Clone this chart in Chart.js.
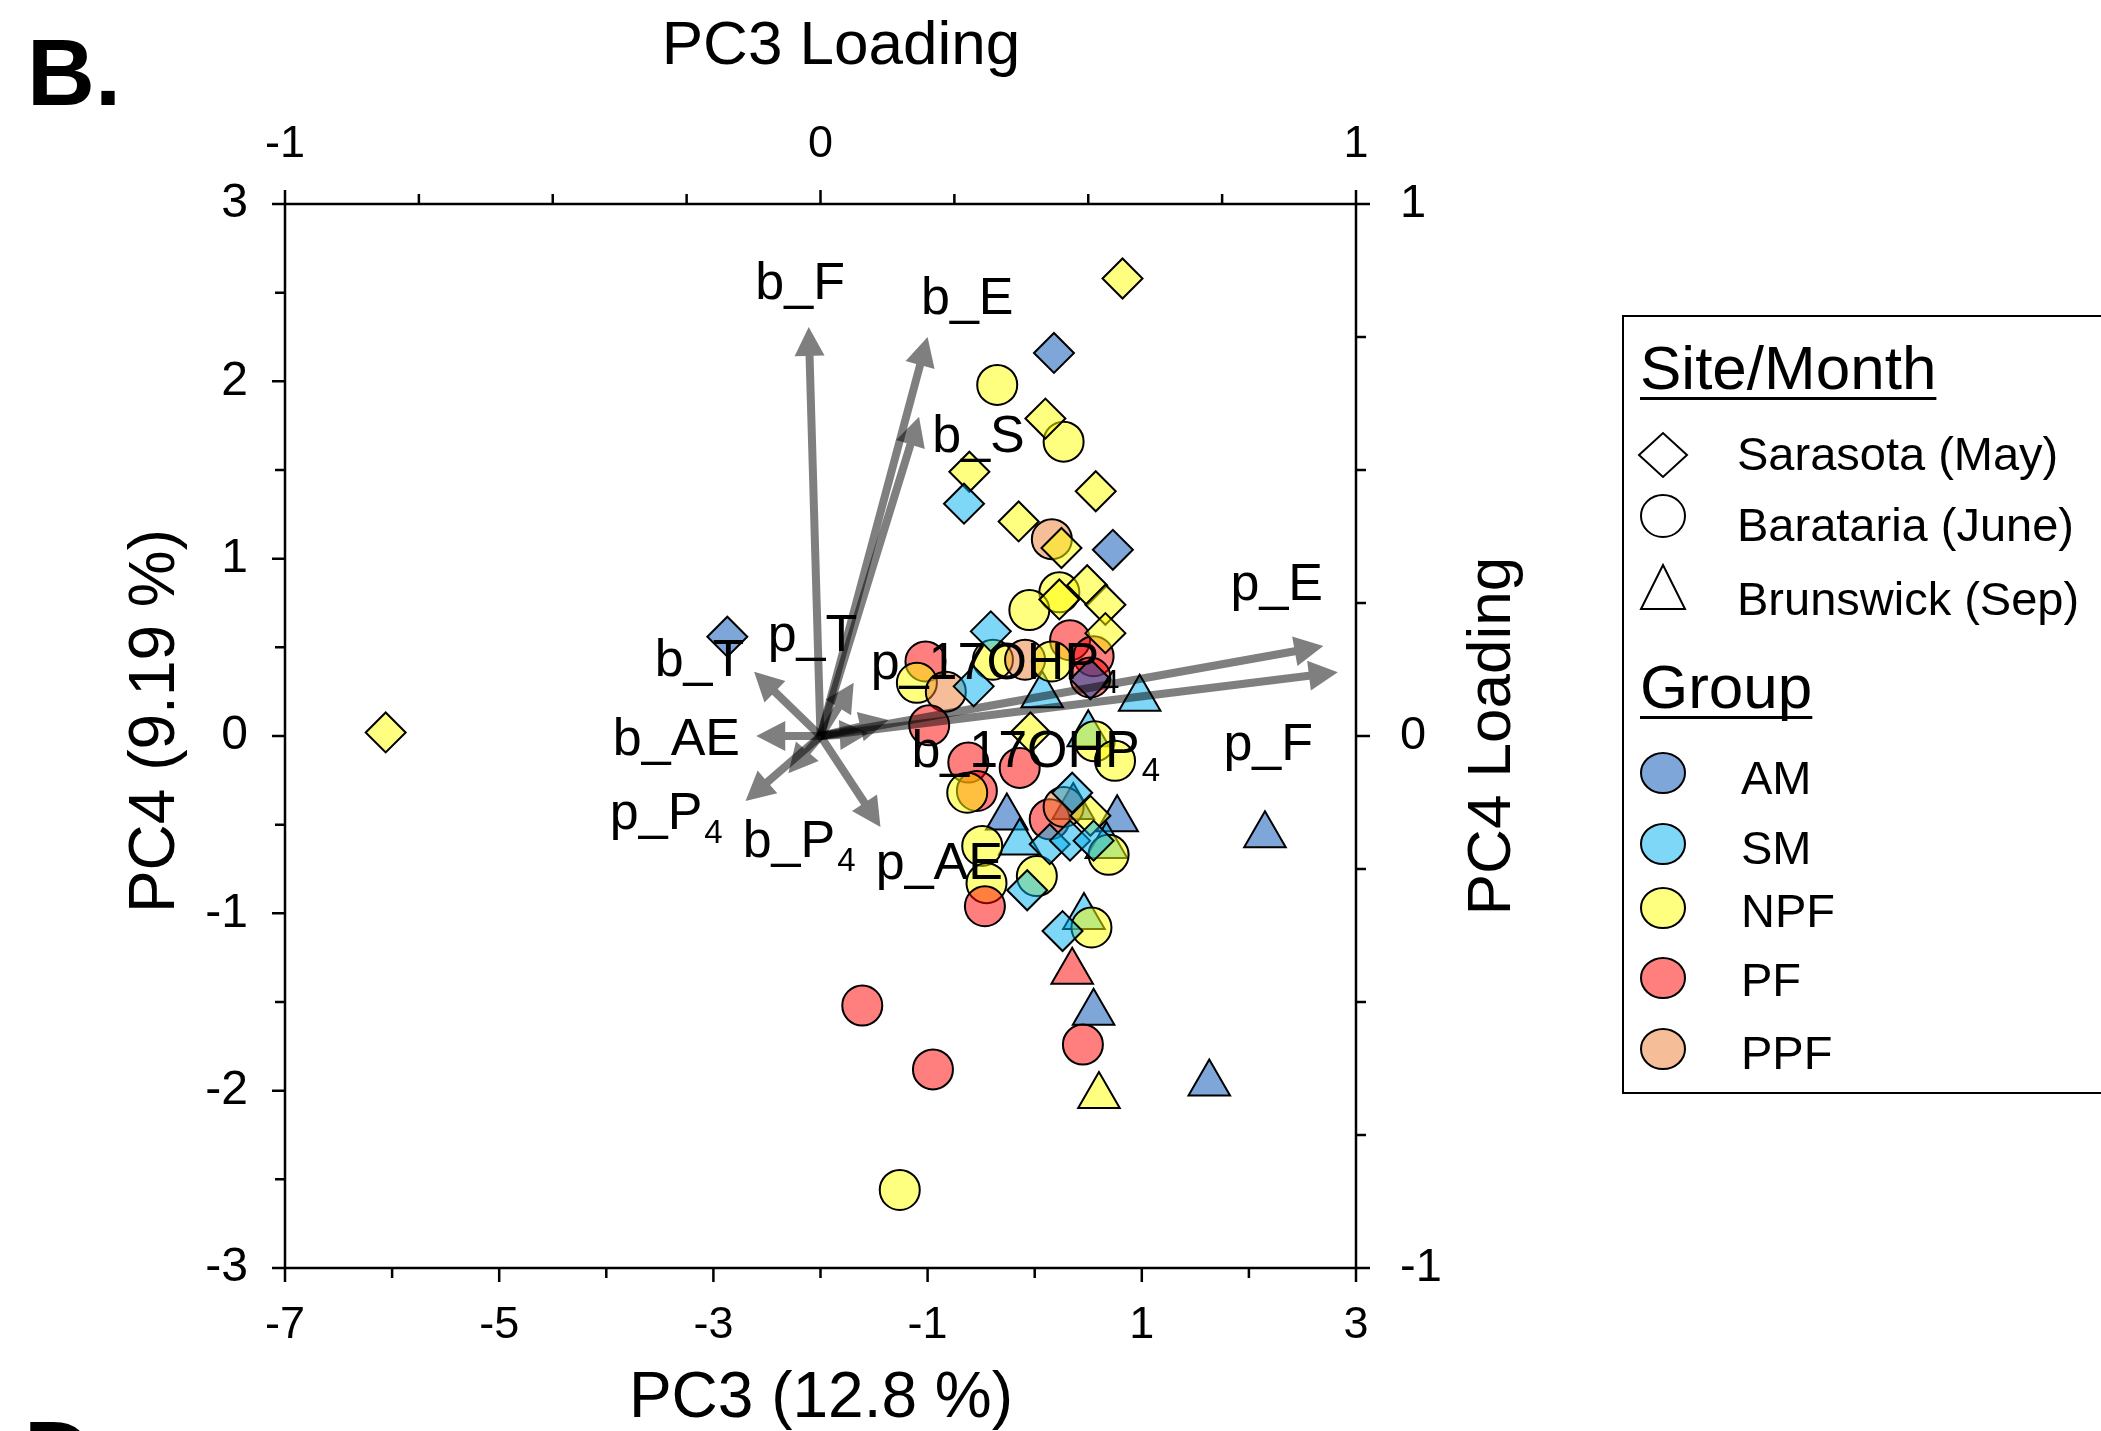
<!DOCTYPE html>
<html><head><meta charset="utf-8">
<script src="https://cdn.jsdelivr.net/npm/chart.js@4.4.1/dist/chart.umd.min.js"></script>
<style>html,body{margin:0;padding:0;background:#fff;overflow:hidden}canvas{display:block}</style>
</head><body>
<canvas id="c" width="2101" height="1431"></canvas>
<script>
// ---------------- data ----------------
const groupNames = ['AM', 'SM', 'NPF', 'PF', 'PPF'];
const groupColors = ['rgba(0,78,180,0.5)', 'rgba(0,176,240,0.5)', 'rgba(255,255,0,0.5)', 'rgba(255,0,0,0.5)', 'rgba(235,123,49,0.5)'];
const siteNames = ['Sarasota (May)', 'Barataria (June)', 'Brunswick (Sep)'];

// Sarasota (May) – diamonds
const sarX = [-6.06, 0.82, 0.18, -2.87, 0.10, -0.61, -0.66, 0.57, -0.15, 0.25, 0.73, 0.49, 0.23, 0.66, 0.66, -0.41, 0.52, -0.57, -0.04, 0.35, 0.52, 0.14, 0.33, 0.55, -0.07, 0.26];
const sarY = [0.02, 2.58, 2.16, 0.56, 1.79, 1.49, 1.31, 1.38, 1.21, 1.06, 1.05, 0.85, 0.77, 0.74, 0.58, 0.59, 0.32, 0.28, 0.02, -0.32, -0.45, -0.61, -0.59, -0.59, -0.87, -1.10];
const sarG = ['NPF','NPF','AM','AM','NPF','NPF','SM','NPF','NPF','NPF','AM','NPF','NPF','NPF','NPF','SM','AM','SM','NPF','SM','NPF','SM','SM','SM','SM','SM'];

// Barataria (June) – circles
const barX = [-0.35, 0.27, 0.16, 0.23, -0.05, 0.33, 0.55, 0.52, -1.02, -1.10, -0.83, -0.39, -0.09, 0.16, -0.985, 0.56, 0.75, -0.62, -0.14, -0.54, -0.63, 0.14, 0.27, 0.69, -0.49, 0.02, -0.45, -0.465, 0.53, -1.61, 0.45, -0.95, -1.26];
const barY = [1.98, 1.66, 1.11, 0.81, 0.71, 0.54, 0.45, 0.33, 0.42, 0.30, 0.25, 0.43, 0.43, 0.42, 0.06, -0.03, -0.14, -0.15, -0.18, -0.31, -0.32, -0.47, -0.40, -0.67, -0.62, -0.79, -0.83, -0.96, -1.08, -1.52, -1.74, -1.88, -2.56];
const barG = ['NPF','NPF','PPF','NPF','NPF','PF','PF','PF','PF','NPF','PPF','NPF','PPF','NPF','PF','NPF','NPF','PF','PF','PF','NPF','PF','PPF','NPF','NPF','NPF','NPF','PF','NPF','PF','PF','PF','NPF'];

// Brunswick (Sep) – triangles
const bruX = [0.07, 0.98, 0.50, -0.26, 0.36, 0.77, -0.14, 0.67, 0.46, 0.35, 0.55, 0.60, 1.63, 2.15];
const bruY = [0.23, 0.21, 0.01, -0.46, -0.40, -0.47, -0.60, -0.62, -1.02, -1.33, -1.56, -2.03, -1.96, -0.56];
const bruG = ['SM','SM','SM','AM','AM','AM','SM','SM','SM','PF','AM','NPF','AM','AM'];

// Loadings (PC3 loading, PC4 loading)
const loadMain = ['b_F', 'b_E', 'b_S', 'p_E', 'p_F', 'p_T', 'b_T', 'b_AE', 'p_P', 'b_P', 'p_AE', 'p_17OHP', 'b_17OHP'];
const loadSub  = ['', '', '', '', '', '', '', '', '4', '4', '', '4', '4'];
const loadX = [-0.022, 0.200, 0.184, 0.939, 0.966, 0.062, -0.124, -0.120, -0.140, -0.060, 0.112, 0.127, 0.090];
const loadY = [0.769, 0.750, 0.600, 0.169, 0.120, 0.100, 0.121, 0.000, -0.122, -0.070, -0.171, 0.030, 0.005];
const labelX = [-0.038, 0.274, 0.295, 0.852, 0.836, -0.015, -0.226, -0.269, -0.288, -0.040, 0.222, 0.326, 0.402];
const labelY = [0.856, 0.828, 0.568, 0.290, -0.011, 0.195, 0.148, 0.000, -0.140, -0.193, -0.234, 0.142, -0.023];

// axis tick settings
const pcXTicks = {min: -7, max: 3, step: 1};
const pcYTicks = {min: -3, max: 3, step: 0.5};
const loadTicks = {min: -1, max: 1, step: 0.25};

// ---------------- helpers ----------------
const FONT = "'Liberation Sans', Arial, sans-serif";
const colorOf = g => groupColors[groupNames.indexOf(g)];
const pts = (xs, ys) => xs.map((x, i) => ({x: x, y: ys[i]}));

function arrowPoly(ctx, x0, y0, x1, y1, sw, hl, hw) {
  const dx = x1 - x0, dy = y1 - y0, L = Math.hypot(dx, dy);
  const ux = dx / L, uy = dy / L, nx = -uy, ny = ux;
  const h = Math.min(hl, L * 0.8), w = hw * h / hl;
  const bx = x1 - ux * h, by = y1 - uy * h;
  ctx.beginPath();
  ctx.moveTo(x0 + nx * sw, y0 + ny * sw);
  ctx.lineTo(bx + nx * sw, by + ny * sw);
  ctx.lineTo(bx + nx * w, by + ny * w);
  ctx.lineTo(x1, y1);
  ctx.lineTo(bx - nx * w, by - ny * w);
  ctx.lineTo(bx - nx * sw, by - ny * sw);
  ctx.lineTo(x0 - nx * sw, y0 - ny * sw);
  ctx.closePath();
  ctx.fill();
}

const bgPlugin = {
  id: 'bg',
  beforeDraw(chart) {
    const c = chart.ctx; c.save(); c.fillStyle = '#fff';
    c.fillRect(0, 0, chart.width, chart.height); c.restore();
  }
};

const arrowPlugin = {
  id: 'arrows',
  afterDatasetsDraw(chart) {
    const ctx = chart.ctx, sx = chart.scales.x2, sy = chart.scales.y2;
    const ox = sx.getPixelForValue(0), oy = sy.getPixelForValue(0);
    ctx.save();
    ctx.fillStyle = 'rgba(0,0,0,0.5)';
    loadX.forEach((lx, i) => {
      arrowPoly(ctx, ox, oy, sx.getPixelForValue(lx), sy.getPixelForValue(loadY[i]), 4, 29, 15);
    });
    // labels
    ctx.fillStyle = '#000';
    ctx.textBaseline = 'alphabetic';
    ctx.textAlign = 'left';
    loadMain.forEach((t, i) => {
      ctx.font = '52px ' + FONT;
      const wm = ctx.measureText(t).width;
      ctx.font = '33px ' + FONT;
      const ws = loadSub[i] ? ctx.measureText(loadSub[i]).width + 2 : 0;
      const cx = sx.getPixelForValue(labelX[i]);
      const cy = sy.getPixelForValue(labelY[i]);
      const left = cx - (wm + ws) / 2, base = cy + 18.6;
      ctx.font = '52px ' + FONT;
      ctx.fillText(t, left, base);
      if (loadSub[i]) { ctx.font = '33px ' + FONT; ctx.fillText(loadSub[i], left + wm + 2, base + 14); }
    });
    ctx.restore();
  }
};

const framePlugin = {
  id: 'frame',
  afterDraw(chart) {
    const ctx = chart.ctx, a = chart.chartArea, S = chart.scales;
    ctx.save();
    ctx.strokeStyle = '#000'; ctx.lineWidth = 2.5;
    ctx.beginPath();
    ctx.moveTo(a.left, a.top - 4); ctx.lineTo(a.left, a.bottom + 4);
    ctx.moveTo(a.right, a.top - 4); ctx.lineTo(a.right, a.bottom + 4);
    ctx.moveTo(a.left - 4, a.top); ctx.lineTo(a.right + 4, a.top);
    ctx.moveTo(a.left - 4, a.bottom); ctx.lineTo(a.right + 4, a.bottom);
    S.x.ticks.forEach(t => { const p = S.x.getPixelForValue(t.value); ctx.moveTo(p, a.bottom); ctx.lineTo(p, a.bottom + (t.label ? 14 : 10)); });
    S.x2.ticks.forEach(t => { const p = S.x2.getPixelForValue(t.value); ctx.moveTo(p, a.top); ctx.lineTo(p, a.top - (t.label ? 14 : 10)); });
    S.y.ticks.forEach(t => { const p = S.y.getPixelForValue(t.value); ctx.moveTo(a.left, p); ctx.lineTo(a.left - (t.label ? 13 : 10), p); });
    S.y2.ticks.forEach(t => { const p = S.y2.getPixelForValue(t.value); ctx.moveTo(a.right, p); ctx.lineTo(a.right + (t.label ? 14 : 10), p); });
    ctx.stroke();

    // axis titles
    ctx.fillStyle = '#000';
    ctx.textAlign = 'center'; ctx.textBaseline = 'alphabetic';
    ctx.font = '62px ' + FONT;
    ctx.fillText('PC3 Loading', 841, 64);
    ctx.font = '64px ' + FONT;
    ctx.fillText('PC3 (12.8 %)', 821, 1417);
    ctx.save(); ctx.translate(174, 721); ctx.rotate(-Math.PI / 2);
    ctx.font = '64px ' + FONT; ctx.fillText('PC4 (9.19 %)', 0, 0); ctx.restore();
    ctx.save(); ctx.translate(1510, 736); ctx.rotate(-Math.PI / 2);
    ctx.font = '62px ' + FONT; ctx.fillText('PC4 Loading', 0, 0); ctx.restore();

    // panel letters
    ctx.textAlign = 'left';
    ctx.font = 'bold 94px ' + FONT;
    ctx.fillText('B.', 27, 105);
    ctx.fillText('D.', 24, 1487);

    // legend
    ctx.lineWidth = 2;
    ctx.strokeRect(1623, 316, 600, 777);
    ctx.font = '62px ' + FONT;
    const hdr = (t, y) => {
      ctx.fillText(t, 1640, y);
      const w = ctx.measureText(t).width;
      ctx.fillRect(1640, y + 8, w, 3);
    };
    hdr('Site/Month', 389);
    hdr('Group', 708);
    ctx.font = '47px ' + FONT;
    const siteTextY = [453, 524, 598];
    siteNames.forEach((n, i) => ctx.fillText(n, 1737, siteTextY[i] + 17));
    // site shapes
    ctx.lineWidth = 2; ctx.strokeStyle = '#000'; ctx.fillStyle = '#fff';
    ctx.beginPath();
    ctx.moveTo(1663 - 24, 455); ctx.lineTo(1663, 455 - 22); ctx.lineTo(1663 + 24, 455); ctx.lineTo(1663, 455 + 22); ctx.closePath();
    ctx.fill(); ctx.stroke();
    ctx.beginPath(); ctx.ellipse(1663, 516, 22, 21, 0, 0, Math.PI * 2); ctx.fill(); ctx.stroke();
    ctx.beginPath(); ctx.moveTo(1663, 565); ctx.lineTo(1685, 609); ctx.lineTo(1641, 609); ctx.closePath(); ctx.fill(); ctx.stroke();
    // group swatches
    const gMarkY = [773, 844, 908, 978, 1049];
    const gTextY = [777, 847, 910, 979, 1052];
    groupNames.forEach((g, i) => {
      ctx.beginPath(); ctx.ellipse(1663, gMarkY[i], 22, 20, 0, 0, Math.PI * 2);
      ctx.fillStyle = '#fff'; ctx.fill();
      ctx.fillStyle = groupColors[i]; ctx.fill(); ctx.stroke();
      ctx.fillStyle = '#000'; ctx.font = '47px ' + FONT;
      ctx.fillText(g, 1741, gTextY[i] + 17);
    });
    ctx.restore();
  }
};

const intLabel = v => (Number.isInteger(v) ? String(v) : '');
const oddLabel = v => (Number.isInteger(v) && Math.abs(v % 2) === 1 ? String(v) : '');

const mkDs = (label, xs, ys, gs, style, r) => ({
  label: label,
  data: pts(xs, ys),
  pointStyle: style,
  pointRadius: r,
  pointHoverRadius: r,
  pointBorderWidth: 2,
  pointBorderColor: '#000',
  pointBackgroundColor: gs.map(colorOf),
  showLine: false
});

new Chart(document.getElementById('c'), {
  type: 'scatter',
  data: {
    datasets: [
      mkDs(siteNames[0], sarX, sarY, sarG, 'rectRot', 20),
      mkDs(siteNames[1], barX, barY, barG, 'circle', 20),
      mkDs(siteNames[2], bruX, bruY, bruG, 'triangle', 24)
    ]
  },
  options: {
    responsive: false,
    devicePixelRatio: 1,
    animation: false,
    events: [],
    layout: {padding: 0},
    plugins: {legend: {display: false}, tooltip: {enabled: false}},
    scales: {
      x: {type: 'linear', position: 'bottom', min: pcXTicks.min, max: pcXTicks.max,
          afterFit: s => { s.height = 163; },
          grid: {display: false, drawTicks: false}, border: {display: false},
          ticks: {stepSize: pcXTicks.step, autoSkip: false, maxRotation: 0, padding: 31, color: '#000',
                  font: {family: FONT, size: 45}, callback: oddLabel}},
      x2: {type: 'linear', position: 'top', min: loadTicks.min, max: loadTicks.max, display: true,
          afterFit: s => { s.height = 204; },
          grid: {display: false, drawTicks: false}, border: {display: false},
          ticks: {stepSize: loadTicks.step, autoSkip: false, maxRotation: 0, padding: 32, color: '#000',
                  font: {family: FONT, size: 45}, callback: intLabel}},
      y: {type: 'linear', position: 'left', min: pcYTicks.min, max: pcYTicks.max,
          afterFit: s => { s.width = 285; },
          grid: {display: false, drawTicks: false}, border: {display: false},
          ticks: {stepSize: pcYTicks.step, autoSkip: false, padding: 37, color: '#000',
                  font: {family: FONT, size: 48}, callback: intLabel}},
      y2: {type: 'linear', position: 'right', min: loadTicks.min, max: loadTicks.max, display: true,
          afterFit: s => { s.width = 745; },
          grid: {display: false, drawTicks: false}, border: {display: false},
          ticks: {stepSize: loadTicks.step, autoSkip: false, padding: 44, color: '#000',
                  font: {family: FONT, size: 47}, callback: intLabel}}
    }
  },
  plugins: [bgPlugin, arrowPlugin, framePlugin]
});
</script>
</body></html>
